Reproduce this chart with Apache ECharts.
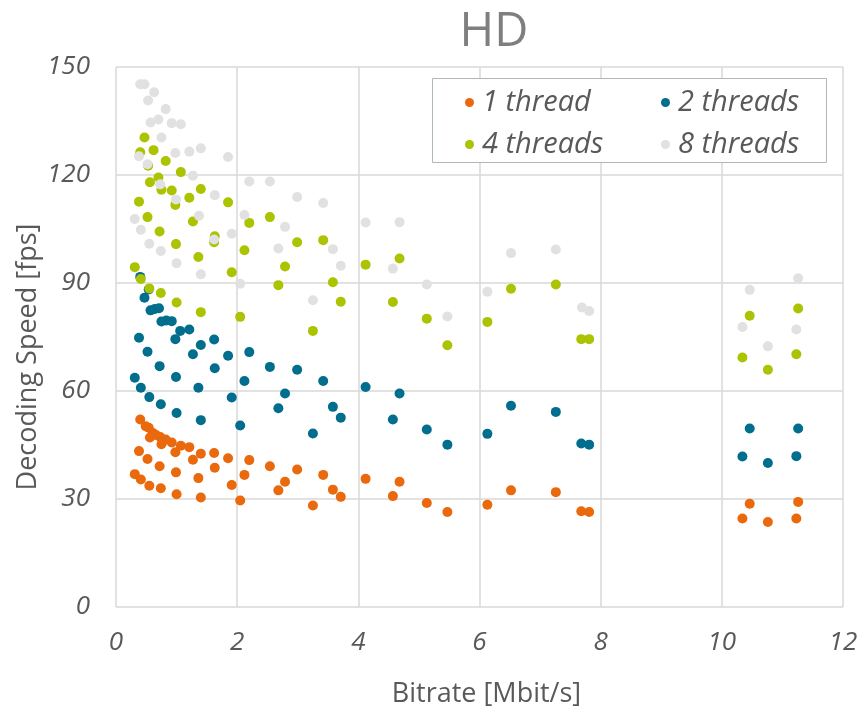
<!DOCTYPE html>
<html>
<head>
<meta charset="utf-8">
<title>HD decoding speed</title>
<script src="https://cdn.jsdelivr.net/npm/echarts@6/dist/echarts.min.js"></script>
<style>
  html, body { margin: 0; padding: 0; background: #fff; }
  #chart { width: 862px; height: 709px; }
</style>
</head>
<body>
<div id="chart"></div>
<script>
// Decoding speed [fps] versus bitrate [Mbit/s] for the HD sequences,
// one series per thread count. Each entry: [bitrate, fps].
const seriesNames = ['1 thread', '2 threads', '4 threads', '8 threads'];
const seriesColors = ['#E9690C', '#006E8C', '#ABC300', '#E1E1E1'];

const thread1 = [
  [0.40,52.1],[0.49,50.2],[0.54,49.8],[0.61,48.3],[0.56,47.1],[0.66,47.8],[0.73,47.2],
  [0.82,46.5],[0.75,45.2],[0.92,45.7],[1.07,44.8],[0.98,43.0],[1.21,44.4],[0.38,43.3],
  [0.52,41.1],[0.72,39.1],[0.99,37.4],[0.31,36.9],[0.41,35.4],[0.55,33.7],[0.74,33.0],
  [1.00,31.3],[1.40,42.6],[1.27,40.9],[1.62,42.8],[1.85,41.3],[1.63,38.7],[1.36,35.8],
  [1.40,30.4],[1.91,33.9],[2.05,29.6],[2.20,40.8],[2.12,36.7],[2.54,39.1],[2.79,34.8],
  [2.68,32.4],[2.99,38.2],[3.42,36.7],[3.58,32.6],[3.71,30.6],[3.25,28.2],[4.12,35.6],
  [4.68,34.8],[4.57,30.8],[5.13,28.9],[5.47,26.4],[6.13,28.4],[6.52,32.4],[7.26,31.9],
  [7.68,26.6],[7.81,26.4],[10.46,28.7],[10.34,24.6],[10.76,23.6],[11.26,29.2],[11.23,24.6]
];

const thread2 = [
  [0.40,91.7],[0.54,88.2],[0.47,85.9],[0.57,82.4],[0.64,82.8],[0.71,83.0],[0.75,79.3],
  [0.83,79.6],[0.92,79.4],[1.06,76.7],[1.21,77.1],[0.98,74.4],[0.38,74.8],[0.52,70.9],
  [0.72,66.9],[0.99,63.9],[0.31,63.7],[0.41,60.9],[0.55,58.3],[0.74,56.3],[1.00,53.9],
  [1.40,72.8],[1.27,70.2],[1.62,74.3],[1.85,69.8],[1.63,66.3],[1.36,60.9],[1.40,51.9],
  [1.91,58.2],[2.05,50.4],[2.20,70.8],[2.12,62.8],[2.54,66.7],[2.79,59.3],[2.68,55.2],
  [2.99,65.9],[3.42,62.8],[3.58,55.6],[3.71,52.6],[3.25,48.2],[4.12,61.1],[4.68,59.3],
  [4.57,52.1],[5.13,49.3],[5.47,45.1],[6.13,48.1],[6.52,55.9],[7.26,54.2],[7.68,45.4],
  [7.81,45.1],[10.46,49.6],[10.34,41.8],[10.76,40.0],[11.26,49.6],[11.23,41.9]
];

const thread4 = [
  [0.47,130.4],[0.40,126.3],[0.62,126.9],[0.53,122.6],[0.82,123.9],[1.07,120.8],[0.70,119.3],
  [0.56,118.0],[0.75,115.9],[0.92,115.7],[1.40,116.1],[1.21,113.7],[0.98,111.7],[1.85,112.4],
  [0.38,112.6],[0.52,108.3],[1.27,107.1],[0.72,104.3],[0.99,100.8],[1.63,103.0],[1.62,101.3],
  [2.20,106.7],[2.54,108.3],[2.12,99.1],[2.99,101.3],[3.42,101.9],[1.36,97.2],[0.31,94.4],
  [0.41,91.1],[0.55,88.5],[0.74,87.2],[1.00,84.6],[1.40,81.9],[1.91,93.0],[2.05,80.6],
  [2.79,94.6],[2.68,89.4],[3.58,90.2],[3.71,84.8],[3.25,76.7],[4.12,95.1],[4.68,96.8],
  [4.57,84.7],[5.13,80.1],[5.47,72.7],[6.13,79.2],[6.52,88.4],[7.26,89.6],[7.68,74.4],
  [7.81,74.4],[10.46,80.9],[10.34,69.3],[10.76,65.9],[11.26,82.9],[11.23,70.2]
];

const thread8 = [
  [0.40,145.2],[0.47,145.2],[0.63,143.0],[0.53,140.7],[0.82,138.3],[0.57,134.6],[0.70,135.4],
  [0.92,134.4],[1.07,134.1],[0.75,130.4],[0.38,125.2],[0.52,123.0],[0.98,126.1],[1.21,126.5],
  [1.40,127.4],[1.85,125.0],[1.27,119.8],[0.73,117.4],[0.99,113.2],[2.20,118.2],[2.54,118.2],
  [2.99,113.9],[3.42,112.2],[1.63,114.4],[0.31,107.8],[0.41,104.8],[0.55,100.9],[0.74,98.9],
  [1.00,95.5],[1.37,108.7],[1.62,102.1],[1.91,103.7],[2.12,108.9],[2.79,105.6],[2.68,99.6],
  [3.58,99.4],[1.40,92.4],[2.05,89.8],[3.71,94.8],[3.25,85.2],[4.12,106.8],[4.68,106.9],
  [4.57,94.0],[5.13,89.6],[5.47,80.7],[6.13,87.6],[6.52,98.3],[7.26,99.3],[7.69,83.2],
  [7.81,82.2],[10.46,88.1],[10.34,77.8],[10.76,72.4],[11.26,91.3],[11.23,77.1]
];

const xTicks = { min: 0, max: 12, interval: 2 };
const yTicks = { min: 0, max: 150, interval: 30 };

const FONT = '"Open Sans", "Noto Sans", sans-serif';
const TEXT = '#595959';
const GRID = '#D9D9D9';

const chart = echarts.init(document.getElementById('chart'), null, { renderer: 'canvas' });

const legendBase = {
  orient: 'vertical',
  top: 80,
  itemGap: 7,
  itemWidth: 9,
  itemHeight: 9,
  icon: 'circle',
  selectedMode: false,
  textStyle: {
    fontFamily: FONT, fontStyle: 'italic', fontSize: 29, color: TEXT,
    lineHeight: 35, padding: [0, 0, 0, 3]
  }
};

chart.setOption({
  backgroundColor: '#fff',
  animation: false,
  title: {
    text: 'HD',
    left: 489, top: 4,
    textAlign: 'center',
    textStyle: { fontFamily: FONT, fontWeight: 'normal', fontSize: 47, color: '#7F7F7F' }
  },
  legend: [
    Object.assign({}, legendBase, { left: 460, data: [seriesNames[0], seriesNames[2]] }),
    Object.assign({}, legendBase, { left: 656, data: [seriesNames[1], seriesNames[3]] })
  ],
  graphic: [{
    type: 'rect',
    shape: { x: 432.5, y: 78.5, width: 394, height: 84 },
    style: { fill: '#fff', stroke: '#AEB8B8', lineWidth: 1 },
    z: 1
  }],
  grid: {
    left: 116, right: 19, top: 67, bottom: 102,
    containLabel: false,
    outerBoundsMode: 'none'
  },
  xAxis: {
    type: 'value',
    min: xTicks.min, max: xTicks.max, interval: xTicks.interval,
    name: 'Bitrate [Mbit/s]',
    nameLocation: 'middle',
    nameGap: 74,
    nameMoveOverlap: false,
    nameTextStyle: { fontFamily: FONT, fontSize: 27, color: TEXT, padding: [0, 0, 0, 14] },
    axisLine: { show: false },
    axisTick: { show: false },
    axisLabel: { fontFamily: FONT, fontStyle: 'italic', fontSize: 26, color: TEXT, margin: 23 },
    splitLine: { show: true, lineStyle: { color: GRID, width: 1.5 } }
  },
  yAxis: {
    type: 'value',
    min: yTicks.min, max: yTicks.max, interval: yTicks.interval,
    name: 'Decoding Speed [fps]',
    nameLocation: 'middle',
    nameGap: 74,
    nameMoveOverlap: false,
    nameTextStyle: { fontFamily: FONT, fontSize: 27, color: TEXT, padding: [0, 40, 0, 0] },
    axisLine: { show: false },
    axisTick: { show: false },
    axisLabel: { fontFamily: FONT, fontStyle: 'italic', fontSize: 26, color: TEXT, margin: 26 },
    splitLine: { show: true, lineStyle: { color: GRID, width: 1.5 } }
  },
  series: [thread1, thread2, thread4, thread8].map((data, i) => ({
    name: seriesNames[i],
    type: 'scatter',
    data: data,
    symbol: 'circle',
    symbolSize: 10,
    itemStyle: { color: seriesColors[i], opacity: 1 },
    emphasis: { disabled: true },
    z: 2 + i
  }))
});
</script>
</body>
</html>
